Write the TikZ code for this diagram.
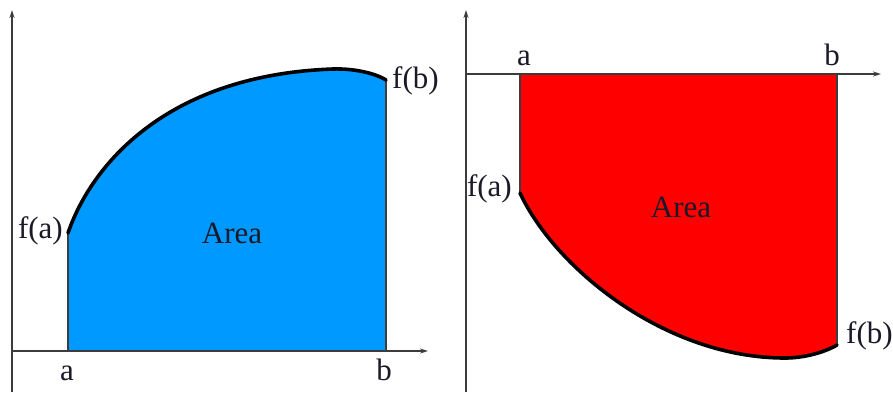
\documentclass[tikz,border=0pt]{standalone}
\usepackage{fontspec}
\setmainfont{Liberation Serif}
\usetikzlibrary{arrows.meta}
\definecolor{areablue}{RGB}{0,153,255}
\definecolor{areared}{RGB}{255,0,0}
\definecolor{axisgray}{RGB}{60,60,60}
\definecolor{txt}{RGB}{25,25,40}
\begin{document}
\begin{tikzpicture}[x=1pt,y=-1pt,
  axisline/.style={draw=axisgray,line width=1.5pt,-{Stealth[length=8pt,width=5pt]}},
  sideline/.style={draw=axisgray,line width=1.8pt},
  curveline/.style={draw=black,line width=3.6pt,line cap=round},
  lbl/.style={font=\fontsize{31}{33}\selectfont,inner sep=0pt,text=txt}]
\useasboundingbox (0,0) rectangle (893,392);
% ---------- left panel ----------
\fill[areablue] (68,351) -- (68,233) .. controls (90,168.5) and (163,75) .. (333,69)
  .. controls (353,68.3) and (375,73) .. (386,80) -- (386,351) -- cycle;
\draw[sideline] (68,351) -- (68,233);
\draw[sideline] (386,80) -- (386,351);
\draw[curveline] (68,233) .. controls (90,168.5) and (163,75) .. (333,69)
  .. controls (353,68.3) and (375,73) .. (386,80);
\draw[axisline] (12,392) -- (12,10);
\draw[axisline] (12,351) -- (428,351);
\node[lbl,anchor=base] (la) at (67,380) {a};
\node[lbl,anchor=base] (lb) at (384,380) {b};
\node[lbl,anchor=base east] (lfa) at (63,238) {f(a)};
\node[lbl,anchor=base west] (lfb) at (392,88) {f(b)};
\node[lbl,anchor=base] (larea) at (232,243) {Area};
% ---------- right panel ----------
\fill[areared] (520,74) -- (520,193) .. controls (555,268) and (665,358) .. (785,358)
  .. controls (805,358) and (825,352) .. (837,345) -- (837,74) -- cycle;
\draw[sideline] (520,74) -- (520,193);
\draw[sideline] (837,345) -- (837,74);
\draw[curveline] (520,193) .. controls (555,268) and (665,358) .. (785,358)
  .. controls (805,358) and (825,352) .. (837,345);
\draw[axisline] (466,392) -- (466,10);
\draw[axisline] (466,74) -- (881,74);
\node[lbl,anchor=base] (ra) at (524,65) {a};
\node[lbl,anchor=base] (rb) at (832,65) {b};
\node[lbl,anchor=base east] (rfa) at (512,196) {f(a)};
\node[lbl,anchor=base west] (rfb) at (846,343) {f(b)};
\node[lbl,anchor=base] (rarea) at (681,217) {Area};
\end{tikzpicture}
\end{document}
